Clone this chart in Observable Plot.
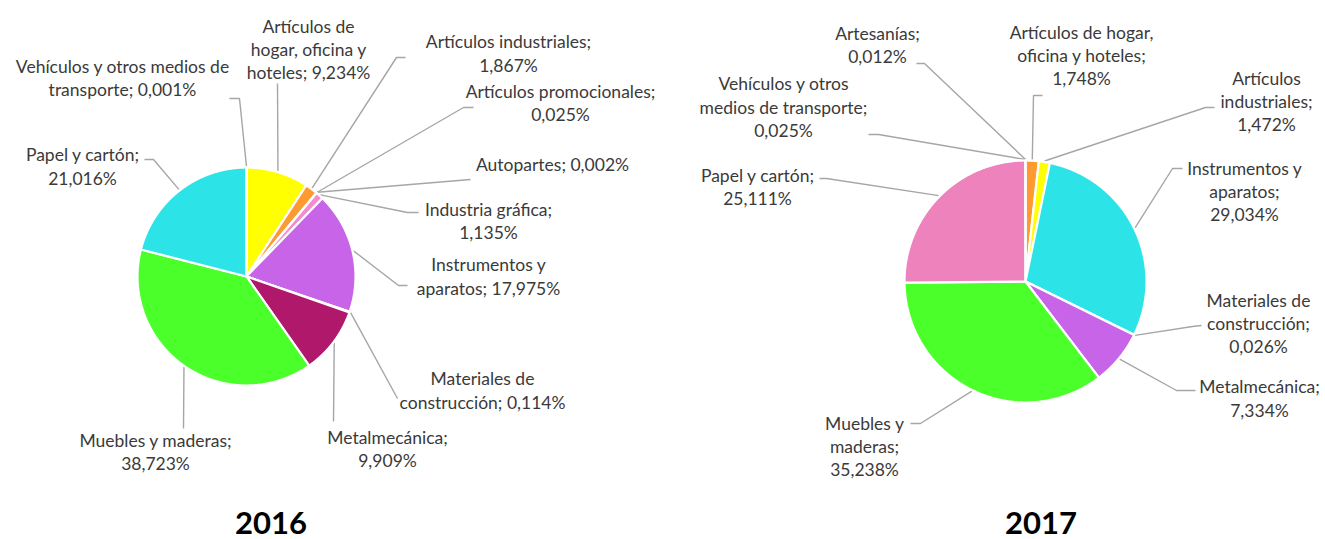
<!DOCTYPE html>
<html>
<head>
<meta charset="utf-8">
<script src="https://cdn.jsdelivr.net/npm/d3@7"></script>
<script src="https://cdn.jsdelivr.net/npm/@observablehq/plot@0.6"></script>
<style>
  html, body { margin: 0; padding: 0; background: #ffffff; }
  #wrap { position: relative; width: 1325px; }
  #titles { position: relative; width: 1325px; height: 49px; }
  .yr { position: absolute; top: 32px; transform: translate(-50%, -50%); line-height: 1;
        font-family: Lato, "Open Sans", sans-serif; font-weight: 700; font-size: 31px; color: #000; }
</style>
</head>
<body>
<div id="wrap">
  <div id="chart"></div>
  <div id="titles"></div>
</div>
<script>
// ---------------- DATA ----------------
const years = ["2016", "2017"];

const categories2016 = [
  "Artículos de hogar, oficina y hoteles",
  "Artículos industriales",
  "Artículos promocionales",
  "Autopartes",
  "Industria gráfica",
  "Instrumentos y aparatos",
  "Materiales de construcción",
  "Metalmecánica",
  "Muebles y maderas",
  "Papel y cartón",
  "Vehículos y otros medios de transporte"
];
const values2016 = [9.234, 1.867, 0.025, 0.002, 1.135, 17.975, 0.114, 9.909, 38.723, 21.016, 0.001];

const categories2017 = [
  "Artesanías",
  "Artículos de hogar, oficina y hoteles",
  "Artículos industriales",
  "Instrumentos y aparatos",
  "Materiales de construcción",
  "Metalmecánica",
  "Muebles y maderas",
  "Papel y cartón",
  "Vehículos y otros medios de transporte"
];
const values2017 = [0.012, 1.748, 1.472, 29.034, 0.026, 7.334, 35.238, 25.111, 0.025];

// ---------------- STYLES ----------------
const colors2016 = ["#FFFF00", "#FF9A30", "#9E480E", "#636363", "#F28CCF", "#C864E8",
                    "#4472C4", "#B0186C", "#4BFF2A", "#2CE3E8", "#264478"];
const colors2017 = ["#997300", "#FF9A30", "#FFFF00", "#2CE3E8", "#4472C4", "#C864E8",
                    "#4BFF2A", "#EE82BD", "#264478"];

// ---------------- LAYOUT ----------------
const W = 1325, H = 490;
const pieLayout = {
  "2016": {cx: 246, cy: 276, r: 109},
  "2017": {cx: 1025, cy: 281, r: 121}
};
// per label: [text center x, block middle y, word breaks, leader points near the label]
const labelLayout2016 = [
  [308, 48,  [2, 5], [[277, 83]]],
  [508, 52,  [2],    [[405, 57], [396, 57]]],
  [560, 101.5, [2],  [[473, 107], [463, 107]]],
  [552, 163, [],     [[470, 179]]],
  [488, 219.5, [2],  [[418, 212], [407, 212]]],
  [488, 275, [2],    [[407, 285], [398, 285]]],
  [482, 389, [2],    [[397, 398]]],
  [387, 447.5, [1],  [[333, 421]]],
  [155, 450.5, [3],  [[183, 428]]],
  [82, 165,  [3],    [[144, 159], [153, 159]]],
  [122, 76.5, [5],   [[229, 98], [239, 98]]]
];
const labelLayout2017 = [
  [877, 43.5, [1],    [[916, 63], [924, 63]]],
  [1081, 54, [3, 6],  [[1042, 95], [1033, 95]]],
  [1266, 100, [1, 2], [[1214, 107], [1205, 107]]],
  [1244, 190, [2, 3], [[1182, 168], [1172, 168]]],
  [1258, 322, [2, 3], [[1201, 325], [1192, 326]]],
  [1259, 397, [1],    [[1195, 390], [1176, 390]]],
  [864, 445, [2, 3],  [[910, 423], [920, 423]]],
  [757, 185.5, [3],   [[819, 178], [826, 178]]],
  [783, 105.5, [3, 6],[[868, 134], [878, 134]]]
];
const titleX = {"2016": 271, "2017": 1041};

// ---------------- BUILD ----------------
const fmt = v => v.toFixed(3).replace(".", ",") + "%";
function wrap(text, breaks) {
  const words = text.split(" ");
  const lines = [];
  let start = 0;
  for (const b of breaks) { lines.push(words.slice(start, b).join(" ")); start = b; }
  lines.push(words.slice(start).join(" "));
  return lines.join("\n");
}

const series = {
  "2016": {cats: categories2016, vals: values2016, colors: colors2016, labels: labelLayout2016},
  "2017": {cats: categories2017, vals: values2017, colors: colors2017, labels: labelLayout2017}
};

const slicePts = [], leaderPts = [], labelRows = [];
for (const yr of years) {
  const s = series[yr];
  const {cx, cy, r} = pieLayout[yr];
  const arcs = d3.pie().sort(null).value(d => d).startAngle(0).endAngle(2 * Math.PI)(s.vals);
  arcs.forEach((a, i) => {
    const id = yr + "-" + i;
    const color = s.colors[i];
    const n = Math.max(2, Math.ceil((a.endAngle - a.startAngle) / 0.005));
    slicePts.push({id, color, x: cx, y: cy});
    for (let k = 0; k <= n; k++) {
      const t = a.startAngle + (a.endAngle - a.startAngle) * k / n;
      slicePts.push({id, color, x: cx + r * Math.sin(t), y: cy - r * Math.cos(t)});
    }
    slicePts.push({id, color, x: cx, y: cy});

    const [lx, ly, breaks, pts] = s.labels[i];
    const mid = (a.startAngle + a.endAngle) / 2;
    pts.forEach(([px, py]) => leaderPts.push({id, x: px, y: py}));
    leaderPts.push({id, x: cx + (r + 1) * Math.sin(mid), y: cy - (r + 1) * Math.cos(mid)});

    labelRows.push({x: lx, y: ly, text: wrap(s.cats[i] + "; " + fmt(s.vals[i]), breaks)});
  });
}

const chart = Plot.plot({
  width: W,
  height: H,
  margin: 0,
  x: {domain: [0, W], range: [0, W], axis: null},
  y: {domain: [0, H], range: [0, H], axis: null},
  color: {type: "identity"},
  style: {fontFamily: "Lato, 'Open Sans', sans-serif", background: "#ffffff"},
  marks: [
    Plot.line(leaderPts, {x: "x", y: "y", z: "id", stroke: "#a6a6a6", strokeWidth: 1.4,
                          strokeLinejoin: "miter", strokeLinecap: "butt", curve: "linear"}),
    Plot.line(slicePts, {x: "x", y: "y", z: "id", fill: "color", stroke: "#ffffff",
                         strokeWidth: 2.2, strokeLinejoin: "round", curve: "linear"}),
    Plot.text(labelRows, {x: "x", y: "y", text: "text", fill: "#3a3a3a", fontSize: 17.5,
                          textAnchor: "middle", lineAnchor: "middle", lineHeight: 1.34})
  ]
});
document.getElementById("chart").appendChild(chart);

const titles = document.getElementById("titles");
for (const yr of years) {
  const sp = document.createElement("span");
  sp.className = "yr";
  sp.style.left = titleX[yr] + "px";
  sp.textContent = yr;
  titles.appendChild(sp);
}
</script>
</body>
</html>
